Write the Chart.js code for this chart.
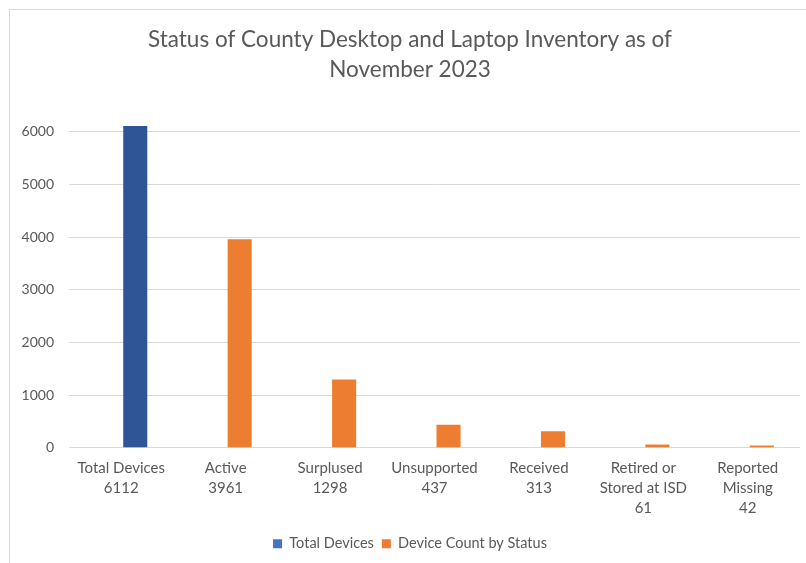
<!DOCTYPE html>
<html>
<head>
<meta charset="utf-8">
<script src="https://cdn.jsdelivr.net/npm/chart.js@4.4.0/dist/chart.umd.min.js"></script>
<style>
  html, body { margin: 0; padding: 0; background: #fff; overflow: hidden; }
  #wrap { position: relative; width: 806px; height: 563px; }
  #frame { position: absolute; left: 9px; top: 9px; width: 900px; height: 700px;
           border: 1px solid #d9d9d9; pointer-events: none; }
</style>
</head>
<body>
<div id="wrap">
  <canvas id="chart" width="806" height="563"></canvas>
  <div id="frame"></div>
</div>
<script>
// category names (line breaks as in the picture) and the counts under them
const statusNames = [
  ['Total Devices'],
  ['Active'],
  ['Surplused'],
  ['Unsupported'],
  ['Received'],
  ['Retired or', 'Stored at ISD'],
  ['Reported', 'Missing']
];
const totalDevices = [6112, null, null, null, null, null, null];
const statusCounts = [null, 3961, 1298, 437, 313, 61, 42];
const yTicks = [0, 1000, 2000, 3000, 4000, 5000, 6000];

const barColors = ['#2F5597', '#ED7D31'];
const legendColors = ['#4472C4', '#ED7D31'];
const textColor = '#595959';
const gridColor = '#d9d9d9';
const fontFamily = 'Lato, "Open Sans", sans-serif';

const labels = statusNames.map((name, i) => {
  const v = totalDevices[i] != null ? totalDevices[i] : statusCounts[i];
  return [...name, String(v)];
});

new Chart(document.getElementById('chart'), {
  type: 'bar',
  data: {
    labels: labels,
    datasets: [
      {
        // empty left slot, Excel leaves room for it
        label: 'spacer',
        data: labels.map(() => null),
        stack: 'left'
      },
      {
        label: 'Total Devices',
        data: totalDevices,
        backgroundColor: barColors[0],
        stack: 'right',
        clip: false
      },
      {
        label: 'Device Count by Status',
        data: statusCounts,
        backgroundColor: barColors[1],
        stack: 'right',
        clip: false
      }
    ]
  },
  options: {
    responsive: false,
    animation: false,
    categoryPercentage: 0.538,
    barPercentage: 0.857,
    layout: { padding: { left: 20, right: 6, top: 0, bottom: 2 } },
    plugins: {
      tooltip: { enabled: false },
      title: {
        display: true,
        text: ['Status of County Desktop and Laptop Inventory as of', 'November 2023'],
        color: textColor,
        font: { family: fontFamily, size: 22.5, weight: 'normal', lineHeight: 1.33 },
        padding: { top: 25, bottom: 47 }
      },
      legend: {
        position: 'bottom',
        labels: {
          color: textColor,
          font: { family: fontFamily, size: 14.5 },
          boxWidth: 9,
          boxHeight: 9,
          padding: 8,
          filter: item => item.datasetIndex > 0,
          generateLabels: chart => {
            const items = Chart.defaults.plugins.legend.labels.generateLabels(chart);
            items.forEach(it => {
              if (it.datasetIndex > 0) {
                it.fillStyle = legendColors[it.datasetIndex - 1];
                it.strokeStyle = legendColors[it.datasetIndex - 1];
                it.lineWidth = 0;
              }
            });
            return items;
          }
        }
      }
    },
    scales: {
      x: {
        stacked: true,
        grid: { display: false, drawTicks: false },
        border: { display: false },
        ticks: {
          color: textColor,
          font: { family: fontFamily, size: 15, lineHeight: 1.35 },
          padding: 10,
          maxRotation: 0,
          autoSkip: false
        }
      },
      y: {
        stacked: true,
        min: 0,
        max: 6000,
        afterFit: scale => { scale.width = 49; },
        afterBuildTicks: scale => { scale.ticks = yTicks.map(v => ({ value: v })); },
        grid: { color: gridColor, drawTicks: false },
        border: { display: false },
        ticks: {
          color: textColor,
          font: { family: fontFamily, size: 14 },
          padding: 15,
          callback: v => String(v)
        }
      }
    }
  }
});
</script>
</body>
</html>
